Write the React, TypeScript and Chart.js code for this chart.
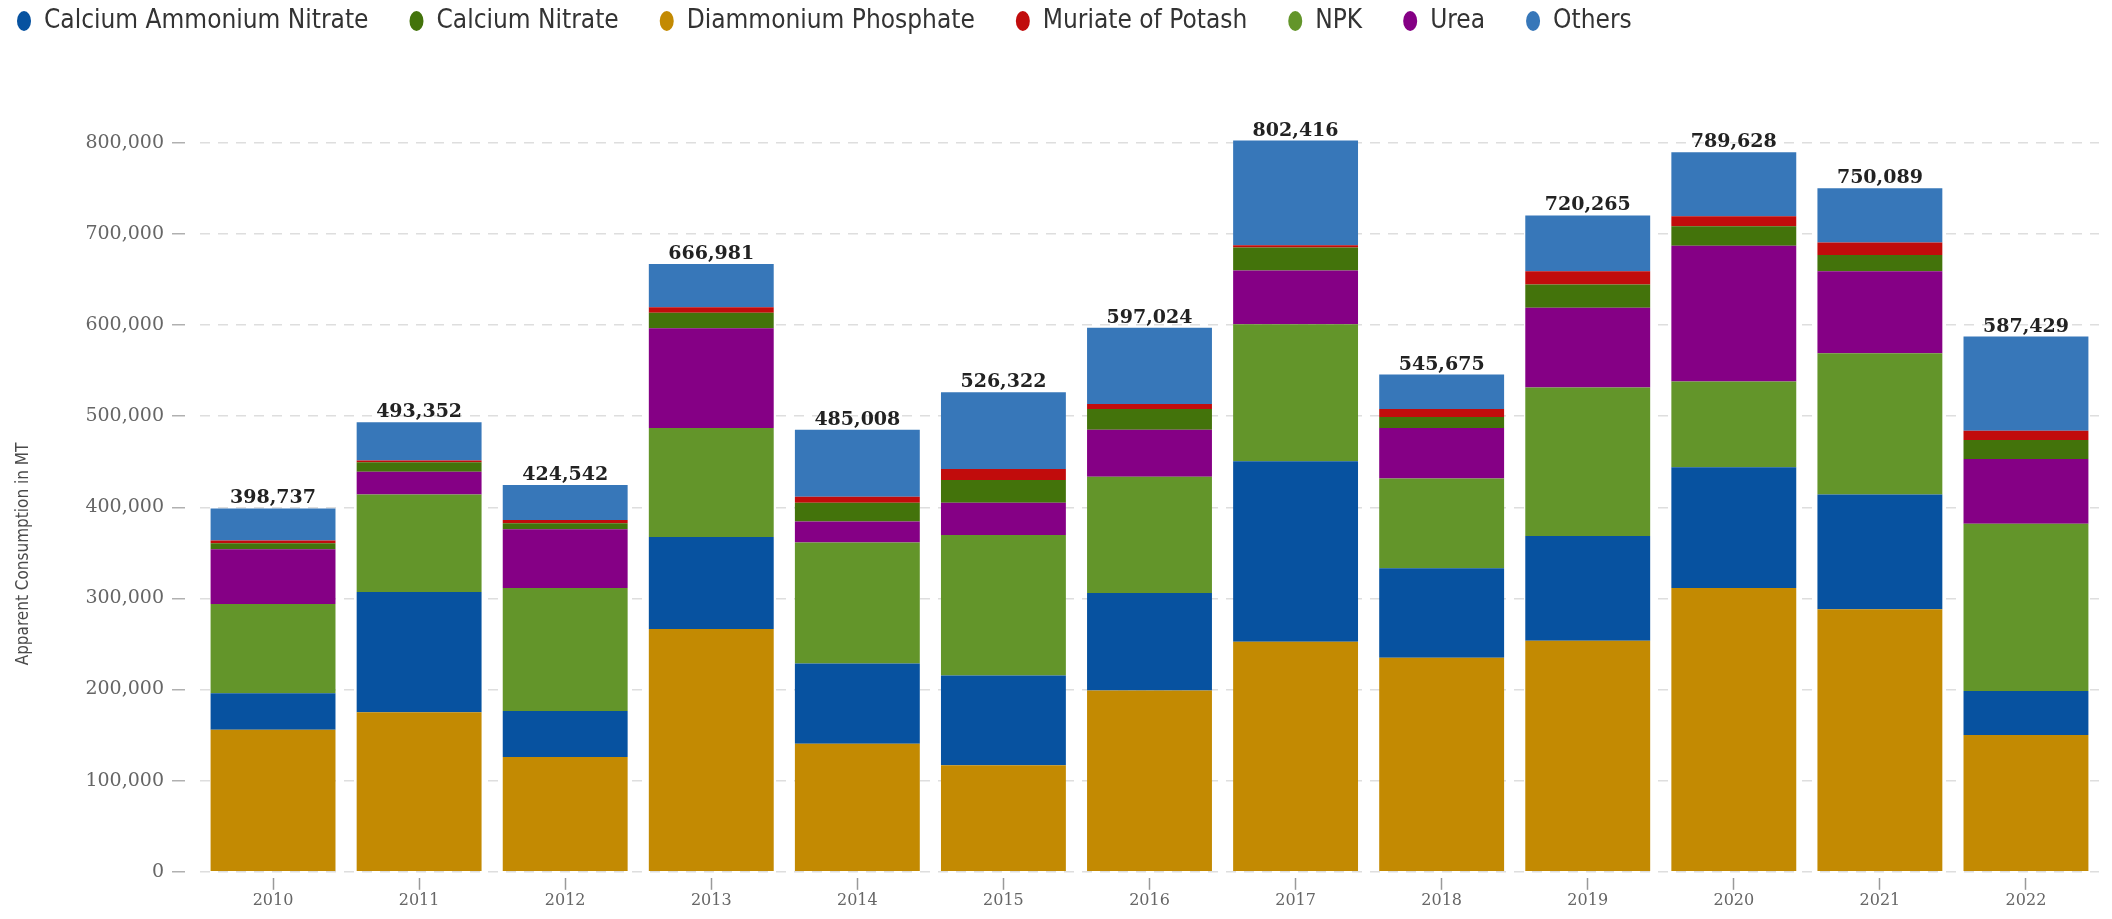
import React, { useEffect, useRef } from 'react';
import { Chart, registerables } from 'chart.js';

Chart.register(...registerables);

// ---- data ----
const years = ['2010', '2011', '2012', '2013', '2014', '2015', '2016', '2017', '2018', '2019', '2020', '2021', '2022'];
const diammoniumPhosphate = [156000, 175000, 126000, 266500, 140500, 117000, 199000, 252500, 235000, 253500, 311500, 288000, 150000];
const calciumAmmoniumNitrate = [40000, 132000, 50500, 101000, 88000, 98500, 107000, 198000, 98000, 115000, 132500, 126000, 48500];
const npk = [98000, 107000, 135000, 119500, 133000, 154000, 127500, 150500, 98500, 163000, 94000, 155000, 183500];
const urea = [60000, 25000, 64500, 109500, 23000, 35500, 51500, 59000, 55500, 87500, 149000, 90000, 71000];
const calciumNitrate = [6500, 10500, 6500, 17000, 20500, 25000, 23000, 25000, 12000, 25500, 21500, 18000, 21000];
const muriateOfPotash = [3000, 2000, 3500, 6000, 6500, 12000, 5500, 2500, 9000, 14500, 11000, 13500, 10000];
const others = [35237, 41852, 38542, 47481, 73508, 84322, 83524, 114916, 37675, 61265, 70128, 59589, 103429];

const legendOrder = ['Calcium Ammonium Nitrate', 'Calcium Nitrate', 'Diammonium Phosphate', 'Muriate of Potash', 'NPK', 'Urea', 'Others'];
const yAxisTitle = 'Apparent Consumption in MT';
const yTickValues = [0, 100000, 200000, 300000, 400000, 500000, 600000, 700000, 800000];

const NARROW = "'Liberation Sans Narrow', 'DejaVu Sans Condensed', 'Roboto Condensed', 'Liberation Sans', sans-serif";
const SERIF = "'DejaVu Serif', serif";

// canvas offset (px) relative to the page
const OX = 24;
const OY = 33;
const W = 2112 + OX;
const H = 919 + OY;
const CHART_TOP = 124.6 + OY; // desired chart-area top in canvas px

const legendGapPlugin = {
  id: 'legendGap',
  beforeLayout(chart: any) {
    const lg = chart.legend;
    if (lg && !lg.__gapWrapped) {
      const orig = lg.fit.bind(lg);
      lg.fit = function () {
        orig();
        this.height = CHART_TOP;
      };
      lg.__gapWrapped = true;
    }
  },
};

const totalsPlugin = {
  id: 'totals',
  afterDatasetsDraw(chart: any) {
    const ctx = chart.ctx;
    const n = chart.data.datasets.length;
    const topMeta = chart.getDatasetMeta(n - 1);
    ctx.save();
    ctx.font = `bold 19px ${SERIF}`;
    ctx.fillStyle = '#222222';
    ctx.textAlign = 'center';
    ctx.textBaseline = 'alphabetic';
    chart.data.labels.forEach((_: any, i: number) => {
      let total = 0;
      chart.data.datasets.forEach((ds: any) => { total += ds.data[i]; });
      const el = topMeta.data[i];
      ctx.fillText(total.toLocaleString('en-US'), el.x, el.y - 5);
    });
    ctx.restore();
  },
};

const yTitlePlugin = {
  id: 'ytitle',
  afterDraw(chart: any) {
    const ctx = chart.ctx;
    ctx.save();
    ctx.translate(24 + OX, 554 + OY);
    ctx.rotate(-Math.PI / 2);
    ctx.font = `17px ${NARROW}`;
    ctx.fillStyle = '#4a4a4a';
    ctx.textAlign = 'center';
    ctx.textBaseline = 'middle';
    ctx.fillText(yAxisTitle, 0, 0);
    ctx.restore();
  },
};

export default function App() {
  const ref = useRef<HTMLCanvasElement>(null);

  useEffect(() => {
    if (!ref.current) return;
    const mk = (label: string, data: number[], color: string) => ({
      label,
      data,
      backgroundColor: color,
      borderWidth: 0,
      barPercentage: 0.855,
      categoryPercentage: 1,
    });
    const chart = new Chart(ref.current, {
      type: 'bar',
      data: {
        labels: years,
        datasets: [
          mk('Diammonium Phosphate', diammoniumPhosphate, '#c38a02'),
          mk('Calcium Ammonium Nitrate', calciumAmmoniumNitrate, '#0752a0'),
          mk('NPK', npk, '#63952a'),
          mk('Urea', urea, '#850085'),
          mk('Calcium Nitrate', calciumNitrate, '#43730b'),
          mk('Muriate of Potash', muriateOfPotash, '#c10c0c'),
          mk('Others', others, '#3777b9'),
        ],
      },
      options: {
        responsive: false,
        animation: false,
        devicePixelRatio: 1,
        layout: { padding: { left: 0, right: 13, top: 0, bottom: 8 } },
        plugins: {
          legend: {
            position: 'top',
            align: 'start',
            labels: {
              usePointStyle: true,
              pointStyle: 'circle',
              boxHeight: 14,
              pointStyleWidth: 14,
              padding: 41,
              color: '#333333',
              font: { family: NARROW, size: 26 },
              sort: (a: any, b: any) => legendOrder.indexOf(a.text) - legendOrder.indexOf(b.text),
            },
          },
          title: { display: false },
          tooltip: { enabled: false },
        },
        scales: {
          x: {
            stacked: true,
            border: { display: false },
            grid: {
              display: true,
              drawOnChartArea: false,
              drawTicks: true,
              offset: false,
              tickLength: 18,
              tickColor: '#9a9a9a',
              tickWidth: 1.5,
              tickBorderDash: [12, 100],
              tickBorderDashOffset: 106,
            },
            ticks: {
              padding: 1,
              color: '#666666',
              font: { family: SERIF, size: 16 },
            },
          },
          y: {
            stacked: true,
            min: 0,
            max: 820000,
            border: { display: false, dash: [10, 8] },
            afterFit: (scale: any) => { scale.width = 200 + OX; },
            afterBuildTicks: (scale: any) => {
              scale.ticks = yTickValues.map((v) => ({ value: v }));
            },
            grid: {
              color: '#dedede',
              lineWidth: 1.5,
              drawTicks: true,
              tickLength: 28,
              tickColor: '#b0b0b0',
              tickWidth: 1.5,
              tickBorderDash: [13, 100],
            },
            ticks: {
              padding: 8,
              color: '#666666',
              font: { family: SERIF, size: 19 },
              callback: (v: any) => Number(v).toLocaleString('en-US'),
            },
          },
        },
      },
      plugins: [legendGapPlugin, totalsPlugin, yTitlePlugin],
    } as any);
    return () => chart.destroy();
  }, []);

  return (
    <div style={{ position: 'absolute', left: -OX, top: -OY, width: W, height: H, background: '#ffffff' }}>
      <canvas ref={ref} width={W} height={H} style={{ width: W, height: H, display: 'block' }} />
    </div>
  );
}
